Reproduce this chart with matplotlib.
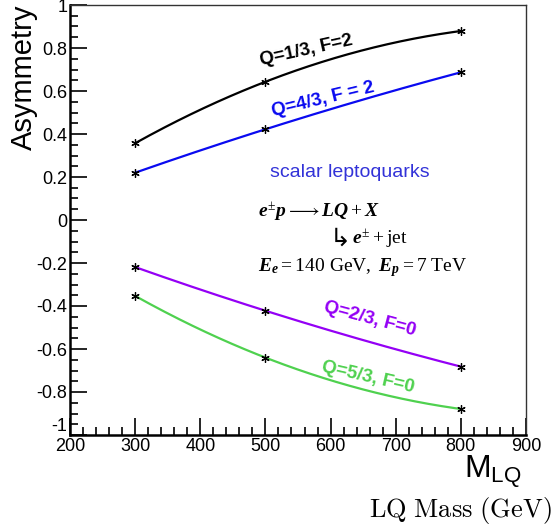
import numpy as np
import matplotlib.pyplot as plt
from matplotlib.ticker import MultipleLocator

plt.rcParams['font.family'] = ['Liberation Sans', 'DejaVu Sans']
plt.rcParams['mathtext.fontset'] = 'custom'
plt.rcParams['mathtext.rm'] = 'Liberation Serif'
plt.rcParams['mathtext.it'] = 'Liberation Serif:italic:bold'
plt.rcParams['mathtext.bf'] = 'Liberation Serif:bold'

# LQ masses (GeV) and asymmetries
mass = [300, 500, 800]
asym_q13 = [0.357, 0.643, 0.879]
asym_q43 = [0.220, 0.422, 0.687]
asym_q23 = [-0.219, -0.422, -0.682]
asym_q53 = [-0.353, -0.640, -0.879]

series = [
    (asym_q13, 'black', 'Q=1/3, F=2', 563, 0.79, 12.5),
    (asym_q43, '#0a0af0', 'Q=4/3, F = 2', 588, 0.56, 13.5),
    (asym_q23, '#9400f5', 'Q=2/3, F=0', 661, -0.46, -15),
    (asym_q53, '#4fd14f', 'Q=5/3, F=0', 657, -0.73, -13),
]

fig = plt.figure(figsize=(5.53, 5.29), dpi=100)
ax = fig.add_axes([70 / 553, 94 / 529, 456 / 553, 430 / 529])

for vals, col, lab, tx, ty, rot in series:
    # smooth curve through the three points (quadratic), like the original
    c = np.polyfit(mass, vals, 2)
    xs = np.linspace(mass[0], mass[-1], 200)
    ax.plot(xs, np.polyval(c, xs), color=col, lw=1.6, zorder=2)
    ax.plot(mass, vals, ls='none', marker=(6, 2, 0), ms=6, mew=0.9,
            color='black', zorder=3)
    ax.text(tx, ty, lab, color=col, fontsize=13.5, fontweight='bold',
            rotation=rot, ha='center', va='center', rotation_mode='anchor')

ax.text(630, 0.22, 'scalar leptoquarks', color='#3232d8', fontsize=14,
        ha='center', va='center')
ax.text(489, 0.037, r'$e^{\pm}p \longrightarrow LQ + X$', fontsize=14,
        ha='left', va='center')
ax.text(598, -0.085, '\u21b3', fontsize=18, family='DejaVu Sans',
        ha='left', va='center')
ax.text(633, -0.09, r'$e^{\pm} + \mathrm{jet}$', fontsize=14,
        ha='left', va='center')
ax.text(489, -0.22, r'$E_e = \mathrm{140\ GeV},\ E_p = \mathrm{7\ TeV}$',
        fontsize=14, ha='left', va='center')

ax.set_xlim(200, 900)
ax.set_ylim(-1, 1)
ax.xaxis.set_major_locator(MultipleLocator(100))
ax.xaxis.set_minor_locator(MultipleLocator(20))
ax.yaxis.set_minor_locator(MultipleLocator(0.05))
ax.set_yticks(np.arange(-1, 1.01, 0.2))
ax.set_yticklabels(['-1', '-0.8', '-0.6', '-0.4', '-0.2', '0',
                    '0.2', '0.4', '0.6', '0.8', '1'])
ax.tick_params(which='both', direction='in', top=False, right=False,
               labelsize=13, width=1.2)
ax.tick_params(which='major', length=12, pad=2)
ax.tick_params(which='minor', length=6)
ax.get_yticklabels()[0].set_va('bottom')

for s in ['left', 'bottom']:
    ax.spines[s].set_linewidth(1.8)
for s in ['top', 'right']:
    ax.spines[s].set_linewidth(1.0)
    ax.spines[s].set_color('#333333')

fig.text(24 / 553, 1 - 5 / 529, 'Asymmetry', fontsize=21, rotation=90,
         ha='center', va='top')
fig.text(522 / 553, 1 - 472 / 529, r'$\mathregular{M_{LQ}}$', fontsize=23,
         ha='right', va='center', math_fontfamily='dejavusans')
fig.text(552 / 553, 1 - 511 / 529, r'$\mathrm{LQ\ Mass\ (GeV)}$', fontsize=19,
         ha='right', va='center', math_fontfamily='cm')

fig.savefig('out.png', dpi=100)
